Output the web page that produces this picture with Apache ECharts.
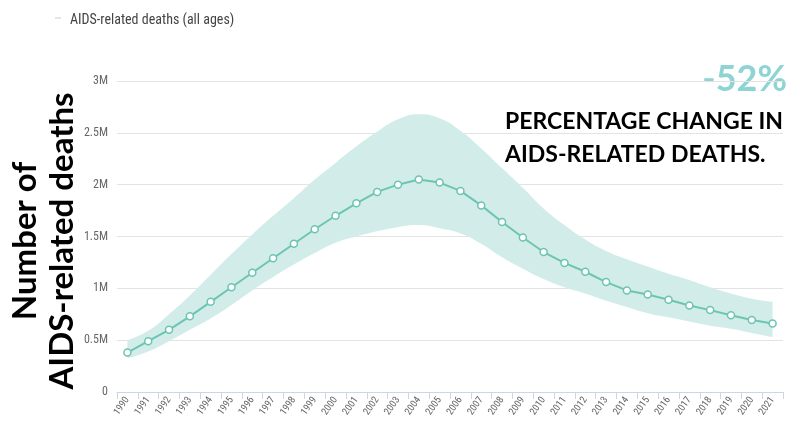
<!DOCTYPE html>
<html>
<head>
<meta charset="utf-8">
<script src="https://cdn.jsdelivr.net/npm/echarts@6/dist/echarts.min.js"></script>
<style>
  html, body { margin: 0; padding: 0; background: #fff; }
  #chart { width: 791px; height: 433px; }
</style>
</head>
<body>
<div id="chart"></div>
<script>
  // years on the x axis
  var years = ['1990', '1991', '1992', '1993', '1994', '1995', '1996', '1997', '1998', '1999',
    '2000', '2001', '2002', '2003', '2004', '2005', '2006', '2007', '2008', '2009', '2010',
    '2011', '2012', '2013', '2014', '2015', '2016', '2017', '2018', '2019', '2020', '2021']
  // estimate (millions)
  var deaths = [0.38, 0.49, 0.60, 0.73, 0.87, 1.01, 1.15, 1.29, 1.43, 1.57,
    1.70, 1.82, 1.93, 2.00, 2.05, 2.02, 1.94, 1.80, 1.64, 1.49, 1.35,
    1.245, 1.16, 1.06, 0.98, 0.94, 0.89, 0.835, 0.79, 0.74, 0.695, 0.66]
  // uncertainty bounds (millions)
  var upper = [0.50, 0.59, 0.75, 0.93, 1.13, 1.33, 1.52, 1.70, 1.87, 2.05,
    2.21, 2.37, 2.51, 2.63, 2.68, 2.64, 2.52, 2.35, 2.16, 1.97, 1.77,
    1.61, 1.47, 1.36, 1.28, 1.21, 1.14, 1.08, 1.01, 0.95, 0.90, 0.87]
  var lower = [0.325, 0.39, 0.49, 0.60, 0.71, 0.84, 0.98, 1.11, 1.23, 1.34,
    1.44, 1.50, 1.55, 1.59, 1.61, 1.58, 1.53, 1.43, 1.30, 1.19, 1.09,
    1.01, 0.95, 0.88, 0.82, 0.76, 0.72, 0.68, 0.64, 0.61, 0.57, 0.53]
  var yTicks = [0, 0.5, 1, 1.5, 2, 2.5, 3]

  var M = 1e6
  var toNum = function (a) { return a.map(function (v) { return Math.round(v * M) }) }
  var bandBase = toNum(lower)
  var bandSpan = upper.map(function (v, i) { return Math.round((v - lower[i]) * M) })

  var chart = echarts.init(document.getElementById('chart'))
  var narrow = '"Liberation Sans Narrow", "Roboto Condensed", "DejaVu Sans Condensed", Roboto, sans-serif'

  chart.setOption({
    animation: false,
    grid: { left: 117, right: 8, top: 81, bottom: 41 },
    title: {
      text: 'AIDS-related deaths (all ages)',
      left: 65, top: 8,
      textStyle: { fontFamily: narrow, fontSize: 14, fontWeight: 'normal', color: '#444' }
    },
    graphic: [
      {
        type: 'line', shape: { x1: 55, y1: 18, x2: 61, y2: 18 },
        style: { stroke: '#cccccc', lineWidth: 1 }
      },
      {
        type: 'text', x: 44, y: 241, rotation: Math.PI / 2,
        style: {
          text: 'Number of\nAIDS-related deaths',
          fontFamily: 'Lato', fontWeight: 'bold', fontSize: 33, lineHeight: 37,
          fill: '#000', textAlign: 'center', textVerticalAlign: 'middle'
        }
      },
      {
        type: 'text', right: 4, top: 61,
        style: {
          text: '-52%', fontFamily: 'Lato', fontWeight: 'bold', fontSize: 36,
          fill: '#8fd4d4'
        }
      },
      {
        type: 'text', left: 505, top: 105,
        style: {
          text: 'PERCENTAGE CHANGE IN\nAIDS-RELATED DEATHS.',
          fontFamily: 'Lato', fontWeight: 'bold', fontSize: 23, lineHeight: 33,
          fill: '#000'
        }
      }
    ],
    xAxis: {
      type: 'category',
      data: years,
      boundaryGap: true,
      axisLine: { lineStyle: { color: '#ccd6eb' } },
      axisTick: { show: true, length: 7, lineStyle: { color: '#ccd6eb' } },
      axisLabel: {
        interval: 0, rotate: 55, fontFamily: narrow, fontSize: 10, color: '#666', margin: 6
      }
    },
    yAxis: {
      type: 'value',
      min: 0, max: 3 * M, interval: 0.5 * M,
      axisLine: { show: false },
      axisTick: { show: false },
      splitLine: { lineStyle: { color: '#e3e3e3' } },
      axisLabel: {
        fontFamily: narrow, fontSize: 12, color: '#666', margin: 9,
        formatter: function (v) {
          var m = v / M
          if (yTicks.indexOf(m) < 0) return ''
          return m === 0 ? '0' : m + 'M'
        }
      }
    },
    series: [
      {
        name: 'lower', type: 'line', stack: 'band', data: bandBase,
        smooth: true, symbol: 'none', lineStyle: { opacity: 0 }, silent: true
      },
      {
        name: 'range', type: 'line', stack: 'band', data: bandSpan,
        smooth: true, symbol: 'none', lineStyle: { opacity: 0 },
        areaStyle: { color: '#d2ede9', opacity: 1 }, silent: true
      },
      {
        name: 'AIDS-related deaths (all ages)', type: 'line', data: toNum(deaths),
        symbol: 'circle', symbolSize: 7, showAllSymbol: true,
        lineStyle: { color: '#6cc5b3', width: 2 },
        itemStyle: { color: '#ffffff', borderColor: '#6cc5b3', borderWidth: 1.5 },
        z: 5
      }
    ]
  })
</script>
</body>
</html>
